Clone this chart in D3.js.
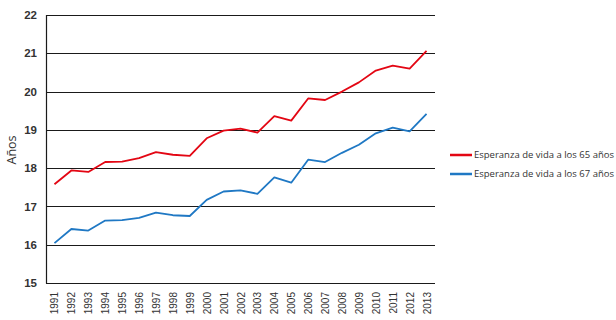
<!DOCTYPE html>
<html>
<head>
<meta charset="utf-8">
<script src="https://cdn.jsdelivr.net/npm/d3@7"></script>
<style>
  body { margin: 0; background: #fff; }
  svg { display: block; font-family: "Open Sans", sans-serif; }
</style>
</head>
<body>
<div id="chart"></div>
<script>
// Datos de la gráfica
const years = [1991, 1992, 1993, 1994, 1995, 1996, 1997, 1998, 1999, 2000, 2001, 2002,
               2003, 2004, 2005, 2006, 2007, 2008, 2009, 2010, 2011, 2012, 2013];
const esperanza65 = [17.58, 17.94, 17.90, 18.16, 18.17, 18.26, 18.42, 18.35, 18.32, 18.78, 18.98, 19.03,
                     18.93, 19.36, 19.24, 19.82, 19.78, 20.00, 20.24, 20.55, 20.68, 20.60, 21.06];
const esperanza67 = [16.04, 16.41, 16.37, 16.63, 16.64, 16.70, 16.84, 16.77, 16.75, 17.17, 17.39, 17.42,
                     17.33, 17.76, 17.62, 18.22, 18.16, 18.40, 18.61, 18.91, 19.06, 18.96, 19.42];
const seriesNames = ['Esperanza de vida a los 65 años', 'Esperanza de vida a los 67 años'];
const yTicks = [15, 16, 17, 18, 19, 20, 21, 22];

const series = [
    { name: seriesNames[0], values: esperanza65, color: '#e30613' },
    { name: seriesNames[1], values: esperanza67, color: '#1f78c4' }
];

const W = 616, H = 320;
const margin = { top: 15, right: 181, bottom: 37, left: 46 };
const width = W - margin.left - margin.right;
const height = H - margin.top - margin.bottom;

const svg = d3.select('#chart').append('svg')
    .attr('width', W)
    .attr('height', H);

const g = svg.append('g')
    .attr('transform', `translate(${margin.left},${margin.top})`);

const x = d3.scalePoint()
    .domain(years)
    .range([0, width])
    .padding(0.5);

const y = d3.scaleLinear()
    .domain([15, 22])
    .range([height, 0]);

// Líneas de cuadrícula horizontales
g.selectAll('.grid')
    .data(yTicks)
    .enter().append('line')
    .attr('x1', 0)
    .attr('x2', width)
    .attr('y1', d => Math.round(y(d)) + 0.5)
    .attr('y2', d => Math.round(y(d)) + 0.5)
    .attr('stroke', '#1a1a1a')
    .attr('stroke-width', 1.2);

// Eje vertical
g.append('line')
    .attr('x1', 0.5).attr('x2', 0.5)
    .attr('y1', 0).attr('y2', Math.round(height) + 0.5)
    .attr('stroke', '#1a1a1a')
    .attr('stroke-width', 1.2);

// Etiquetas del eje Y
const yAxis = g.append('g')
    .call(d3.axisLeft(y).tickValues(yTicks).tickFormat(d3.format('d')).tickSize(0).tickPadding(9));
yAxis.select('.domain').remove();
yAxis.selectAll('text')
    .style('font-size', '11.5px')
    .style('font-weight', '600')
    .attr('fill', '#333');

// Etiquetas del eje X (años en vertical)
const xAxis = g.append('g')
    .attr('transform', `translate(0,${height})`)
    .call(d3.axisBottom(x).tickSize(0));
xAxis.select('.domain').remove();
xAxis.selectAll('text')
    .attr('transform', 'rotate(-90)')
    .attr('text-anchor', 'end')
    .attr('x', -9)
    .attr('y', 0)
    .attr('dy', '0.35em')
    .style('font-size', '10px')
    .attr('fill', '#333');

// Título del eje
svg.append('text')
    .attr('transform', 'translate(16,150) rotate(-90)')
    .attr('text-anchor', 'middle')
    .style('font-size', '12.5px')
    .attr('fill', '#333')
    .text('Años');

// Series
const line = d3.line()
    .x((d, i) => x(years[i]))
    .y(d => y(d));

g.selectAll('.serie')
    .data(series)
    .enter().append('path')
    .attr('fill', 'none')
    .attr('stroke', d => d.color)
    .attr('stroke-width', 1.8)
    .attr('stroke-linejoin', 'round')
    .attr('d', d => line(d.values));

// Leyenda
const legend = svg.append('g')
    .attr('transform', 'translate(450,155)');

const item = legend.selectAll('.item')
    .data(series)
    .enter().append('g')
    .attr('transform', (d, i) => `translate(0,${i * 19})`);

item.append('line')
    .attr('x1', 0).attr('x2', 22)
    .attr('stroke', d => d.color)
    .attr('stroke-width', 2.5);

item.append('text')
    .attr('x', 24)
    .attr('dy', '0.35em')
    .style('font-size', '9.5px')
    .attr('fill', '#333')
    .text(d => d.name);
</script>
</body>
</html>
